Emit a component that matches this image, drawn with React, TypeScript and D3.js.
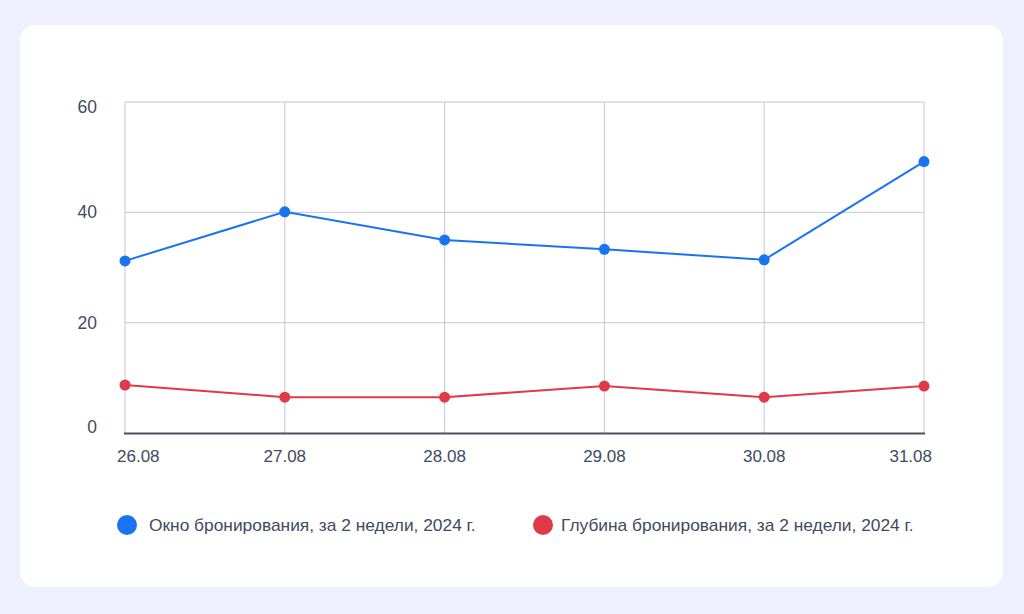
import React from "react";
import * as d3 from "d3";

const categories = ["26.08", "27.08", "28.08", "29.08", "30.08", "31.08"];
const windowValues = [31.2, 40.1, 35.0, 33.3, 31.4, 49.2];
const depthValues = [8.7, 6.5, 6.5, 8.5, 6.5, 8.5];
const yTicks = [0, 20, 40, 60];
const seriesNames = [
  "Окно бронирования, за 2 недели, 2024 г.",
  "Глубина бронирования, за 2 недели, 2024 г.",
];
const seriesColors = ["#1a73f0", "#e03a4a"];

const W = 1024;
const H = 614;
const left = 125;
const right = 924;
const top = 102;
const bottom = 433;
const font = "'Liberation Sans', Arial, sans-serif";
const textColor = "#414b5e";

export default function App() {
  const x = d3.scalePoint<string>().domain(categories).range([left, right]);
  const y = d3.scaleLinear().domain([0, 60]).range([bottom, top]);
  const line = d3
    .line<number>()
    .x((_, i) => x(categories[i]) as number)
    .y((d) => y(d));
  const series = [windowValues, depthValues];
  const n = categories.length;

  return (
    <svg
      width={W}
      height={H}
      style={{ position: "absolute", left: 0, top: 0, display: "block" }}
    >
      <rect x={0} y={0} width={W} height={H} fill="#eef0fd" />
      <rect x={20} y={25} width={983} height={562} rx={15} fill="#ffffff" />
      {/* horizontal grid */}
      {yTicks.map((t, i) => {
        const isFirst = i === 0;
        const isLast = i === yTicks.length - 1;
        return (
          <g key={"y" + t}>
            {t !== 0 && (
              <line
                x1={left}
                x2={right}
                y1={y(t)}
                y2={y(t)}
                stroke="#c6c7ce"
                strokeWidth={1}
              />
            )}
            <text
              x={97}
              y={isFirst ? y(t) - 0.5 : isLast ? y(t) + 11 : y(t) + 6}
              textAnchor="end"
              fontFamily={font}
              fontSize={17.5}
              fill={textColor}
            >
              {t}
            </text>
          </g>
        );
      })}
      {/* vertical grid */}
      {categories.map((c, i) => (
        <g key={"x" + c}>
          <line
            x1={x(c)}
            x2={x(c)}
            y1={top}
            y2={bottom}
            stroke="#c6c7ce"
            strokeWidth={1}
          />
          <text
            x={i === 0 ? 117 : i === n - 1 ? 932 : x(c)}
            y={462}
            textAnchor={i === 0 ? "start" : i === n - 1 ? "end" : "middle"}
            fontFamily={font}
            fontSize={17}
            fill={textColor}
          >
            {c}
          </text>
        </g>
      ))}
      <line
        x1={left - 1}
        x2={right + 1}
        y1={bottom + 0.5}
        y2={bottom + 0.5}
        stroke="#4a5060"
        strokeWidth={2}
      />
      {series.map((vals, si) => (
        <g key={"s" + si}>
          <path
            d={line(vals) || ""}
            fill="none"
            stroke={seriesColors[si]}
            strokeWidth={2}
          />
          {vals.map((v, i) => (
            <circle
              key={i}
              cx={x(categories[i])}
              cy={y(v)}
              r={5.5}
              fill={seriesColors[si]}
            />
          ))}
        </g>
      ))}
      {/* legend */}
      {[
        { cx: 127, tx: 149 },
        { cx: 543, tx: 561 },
      ].map((p, i) => (
        <g key={"l" + i}>
          <circle cx={p.cx} cy={525} r={10} fill={seriesColors[i]} />
          <text
            x={p.tx}
            y={531}
            fontFamily={font}
            fontSize={17.35}
            fill={textColor}
          >
            {seriesNames[i]}
          </text>
        </g>
      ))}
    </svg>
  );
}
